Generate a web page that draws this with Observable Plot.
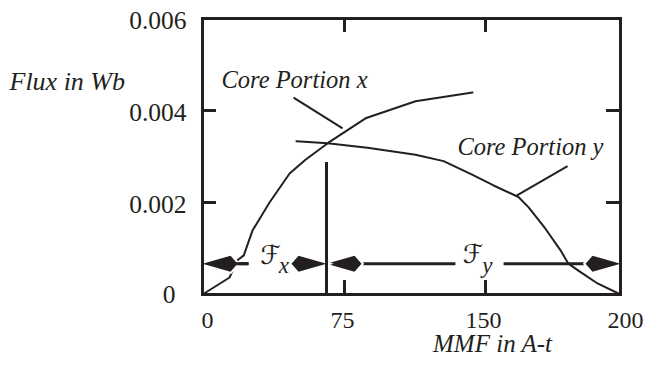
<!DOCTYPE html>
<html>
<head>
<meta charset="utf-8">
<script src="https://cdn.jsdelivr.net/npm/d3@7"></script>
<script src="https://cdn.jsdelivr.net/npm/@observablehq/plot@0.6"></script>
<style>
  html, body { margin: 0; padding: 0; background: #fff; }
  #chart svg { font-family: "Liberation Serif", "Times New Roman", serif; font-size: 24px; }
</style>
</head>
<body>
<div id="chart"></div>
<script>
// Magnetization curves of the two core portions (MMF in A-t, flux in Wb)
const coreXMmf  = [0, 14.3, 18.3, 21.8, 26.4, 35.4, 46.0, 54.4, 66.5, 86.2, 112.8, 143.1];
const coreXFlux = [0, 0.00037, 0.00074, 0.00085, 0.00139, 0.00200, 0.00263, 0.00293, 0.00330, 0.00383, 0.00420, 0.00439];

const coreYMmf  = [49.6, 66.0, 87.2, 112.8, 127.7, 142.6, 153.0, 162.2, 165.9, 172.2, 177.8, 180.7, 184.4, 191.5, 200];
const coreYFlux = [0.00333, 0.00329, 0.00319, 0.00304, 0.00290, 0.00261, 0.00237, 0.00212, 0.00190, 0.00143, 0.00096, 0.00067, 0.00052, 0.00024, 0];

// Operating point: total MMF split between portion x and portion y
const totalMmf = 200;
const mmfX = 65.5;
const dividerFlux = 0.00287;
const dimensionFlux = 0.00067;

// Axis ticks and texts
const xTicks = [0, 75, 150, 200];
const yTicks = [0, 0.002, 0.004, 0.006];
const xInnerTicks = [75, 150];
const yInnerTicks = [0.002, 0.004];
const xTitle = "MMF in A-t";
const yTitle = "Flux in Wb";
const curveLabels = ["Core Portion x", "Core Portion y"];
const dropSymbol = "ℱ";
const dropSubscripts = ["x", "y"];

const coreX = coreXMmf.map((m, i) => ({mmf: m, flux: coreXFlux[i]}));
const coreY = coreYMmf.map((m, i) => ({mmf: m, flux: coreYFlux[i]}));

const ink = "#231f20";
const serif = "Liberation Serif";

// Kite-shaped filled arrowheads with the tip at the anchor point
const headLeft = {draw(ctx) { ctx.moveTo(0, 0); ctx.lineTo(28, -8); ctx.lineTo(35, 0); ctx.lineTo(28, 8); ctx.closePath(); }};
const headRight = {draw(ctx) { ctx.moveTo(0, 0); ctx.lineTo(-28, -8); ctx.lineTo(-35, 0); ctx.lineTo(-28, 8); ctx.closePath(); }};

const frameW = 418, frameH = 276, tickLen = 14;
const fmtFlux = d => d === 0 ? "0" : d.toFixed(3);

const chart = Plot.plot({
  width: 647,
  height: 366,
  marginLeft: 202,
  marginRight: 27,
  marginTop: 18,
  marginBottom: 72,
  style: "font-family: 'Liberation Serif', serif; font-size: 24px; color: #231f20; background: #fff;",
  x: {type: "linear", domain: xTicks, range: [202, 344, 485, 620]},
  y: {domain: [0, 0.006]},
  marks: [
    // curves
    Plot.line(coreX, {x: "mmf", y: "flux", stroke: ink, strokeWidth: 2}),
    Plot.line(coreY, {x: "mmf", y: "flux", stroke: ink, strokeWidth: 2}),

    // dimension lines, broken around their labels
    Plot.link([
      {x1: 0, x2: 24.3}, {x1: 48, x2: mmfX},
      {x1: mmfX, x2: 134}, {x1: 156.7, x2: totalMmf}
    ], {x1: "x1", x2: "x2", y1: dimensionFlux, y2: dimensionFlux, stroke: ink, strokeWidth: 3}),

    // arrowheads
    Plot.dot([0, mmfX], {x: d => d, y: dimensionFlux, symbol: headLeft, fill: ink, stroke: "#fff", strokeWidth: 4, paintOrder: "stroke"}),
    Plot.dot([mmfX, totalMmf], {x: d => d, y: dimensionFlux, symbol: headRight, fill: ink, stroke: "#fff", strokeWidth: 4, paintOrder: "stroke"}),
    Plot.link([{x1: 14, x2: 24.3}], {x1: "x1", x2: "x2", y1: dimensionFlux, y2: dimensionFlux, stroke: ink, strokeWidth: 3}),

    // divider at the operating MMF of portion x
    Plot.ruleX([mmfX], {y1: 0, y2: dividerFlux, stroke: ink, strokeWidth: 3}),

    // MMF drop labels
    Plot.text([dropSymbol], {x: 35.9, y: dimensionFlux, text: d => d, dy: -8, fontFamily: "DejaVu Sans", fontSize: 26, fill: ink}),
    Plot.text([dropSubscripts[0]], {x: 35.9, y: dimensionFlux, text: d => d, dx: 13.5, dy: 2, fontFamily: serif, fontStyle: "italic", fontSize: 23, fill: ink}),
    Plot.text([dropSymbol], {x: 143.3, y: dimensionFlux, text: d => d, dy: -9, fontFamily: "DejaVu Sans", fontSize: 26, fill: ink}),
    Plot.text([dropSubscripts[1]], {x: 143.3, y: dimensionFlux, text: d => d, dx: 14.5, dy: 2, fontFamily: serif, fontStyle: "italic", fontSize: 23, fill: ink}),

    // curve labels and leaders
    Plot.text([curveLabels[0]], {x: 10, y: 0.00467, text: d => d, textAnchor: "start", fontFamily: serif, fontStyle: "italic", fontSize: 24.5, fill: ink}),
    Plot.text([curveLabels[1]], {x: 193.7, y: 0.0032, text: d => d, textAnchor: "end", fontFamily: serif, fontStyle: "italic", fontSize: 24.5, fill: ink}),
    Plot.link([{x1: 48.1, y1: 0.00428, x2: 74.0, y2: 0.00361}, {x1: 180.4, y1: 0.00279, x2: 161.5, y2: 0.00215}],
      {x1: "x1", y1: "y1", x2: "x2", y2: "y2", stroke: ink, strokeWidth: 2}),

    // inward ticks on all four sides
    Plot.ruleX(xInnerTicks, {insetTop: frameH - tickLen, stroke: ink, strokeWidth: 3}),
    Plot.ruleX(xInnerTicks, {insetBottom: frameH - tickLen, stroke: ink, strokeWidth: 3}),
    Plot.ruleY(yInnerTicks, {insetRight: frameW - tickLen, stroke: ink, strokeWidth: 3}),
    Plot.ruleY(yInnerTicks, {insetLeft: frameW - tickLen, stroke: ink, strokeWidth: 3}),

    Plot.frame({stroke: ink, strokeWidth: 3}),

    // tick labels
    Plot.axisX({ticks: xTicks.slice(1, 3), tickSize: 0, tickPadding: 16, label: null, fill: ink, fontFamily: serif, fontSize: 24, dx: -2}),
    Plot.axisX({ticks: [xTicks[0], xTicks[3]], tickSize: 0, tickPadding: 16, label: null, fill: ink, fontFamily: serif, fontSize: 24, dx: 5}),
    Plot.axisY({ticks: yTicks.slice(1), tickSize: 0, tickPadding: 16, label: null, fill: ink, fontFamily: serif, fontSize: 25.5, dy: 2,
      tickFormat: fmtFlux}),
    Plot.axisY({ticks: [yTicks[0]], tickSize: 0, tickPadding: 27, label: null, fill: ink, fontFamily: serif, fontSize: 25.5,
      tickFormat: fmtFlux}),

    // axis titles
    Plot.text([yTitle], {frameAnchor: "top-left", text: d => d, dx: -193, dy: 53, textAnchor: "start", fontFamily: serif, fontStyle: "italic", fontSize: 26, fill: ink}),
    Plot.text([xTitle], {frameAnchor: "bottom", text: d => d, dx: 81, dy: 57, fontFamily: serif, fontStyle: "italic", fontSize: 25, fill: ink})
  ]
});

document.getElementById("chart").append(chart);
</script>
</body>
</html>
